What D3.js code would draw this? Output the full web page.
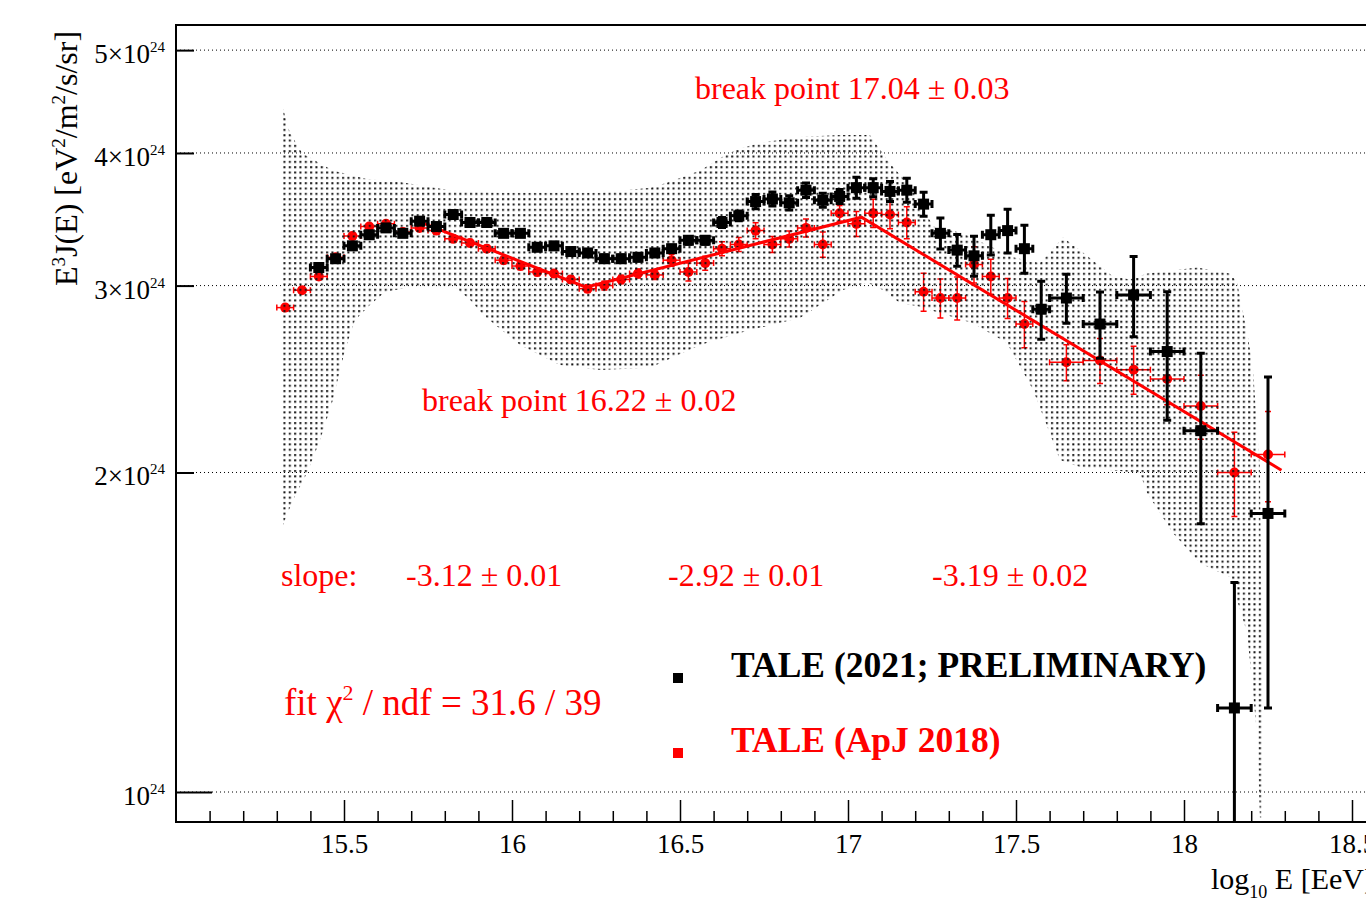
<!DOCTYPE html>
<html>
<head>
<meta charset="utf-8">
<script src="https://cdn.jsdelivr.net/npm/d3@7"></script>
<style>
  body { margin: 0; background: #fff; }
  text { font-family: "Liberation Serif", "DejaVu Serif", serif; }
</style>
</head>
<body>
<script>
// les données : log10(E/eV) et E^3 J(E) en unités de 1e24 eV^2/m^2/s/sr

// TALE (ApJ 2018), en rouge
const redE = [15.325, 15.375, 15.425, 15.475, 15.525, 15.575, 15.625, 15.675, 15.725, 15.775,
  15.825, 15.875, 15.925, 15.975, 16.025, 16.075, 16.125, 16.175, 16.225, 16.275,
  16.325, 16.375, 16.425, 16.475, 16.525, 16.575, 16.625, 16.675, 16.725, 16.775,
  16.825, 16.875, 16.925, 16.975, 17.025, 17.075, 17.125, 17.175, 17.225, 17.275,
  17.325, 17.375, 17.425, 17.475, 17.525, 17.65, 17.75, 17.85, 17.95, 18.05,
  18.15, 18.25]
const redFlux = [2.86, 2.97, 3.06, 3.19, 3.34, 3.41, 3.43, 3.37, 3.40, 3.38,
  3.32, 3.29, 3.25, 3.17, 3.13, 3.09, 3.08, 3.04, 2.98, 3.00,
  3.04, 3.08, 3.07, 3.17, 3.09, 3.15, 3.25, 3.28, 3.38, 3.28,
  3.32, 3.40, 3.28, 3.51, 3.43, 3.51, 3.50, 3.44, 2.96, 2.92,
  2.92, 3.14, 3.06, 2.92, 2.76, 2.54, 2.55, 2.50, 2.45, 2.31,
  2.00, 2.08]
const redErr = [0.02, 0.02, 0.02, 0.02, 0.02, 0.02, 0.02, 0.025, 0.025, 0.025,
  0.025, 0.025, 0.025, 0.025, 0.025, 0.025, 0.025, 0.025, 0.025, 0.028,
  0.028, 0.03, 0.03, 0.041, 0.060, 0.048, 0.049, 0.050, 0.059, 0.057,
  0.058, 0.066, 0.089, 0.06, 0.093, 0.107, 0.106, 0.119, 0.122, 0.124,
  0.136, 0.123, 0.116, 0.127, 0.138, 0.099, 0.124, 0.130, 0.133, 0.160,
  0.182, 0.203]

// TALE (2021; PRELIMINARY), en noir
const blackE = [15.425, 15.475, 15.525, 15.575, 15.625, 15.675, 15.725, 15.775, 15.825, 15.875,
  15.925, 15.975, 16.025, 16.075, 16.125, 16.175, 16.225, 16.275, 16.325, 16.375,
  16.425, 16.475, 16.525, 16.575, 16.625, 16.675, 16.725, 16.775, 16.825, 16.875,
  16.925, 16.975, 17.025, 17.075, 17.125, 17.175, 17.225, 17.275, 17.325, 17.375,
  17.425, 17.475, 17.525, 17.575, 17.65, 17.75, 17.85, 17.95, 18.05, 18.15,
  18.25]
const blackFlux = [3.12, 3.18, 3.27, 3.35, 3.40, 3.36, 3.45, 3.41, 3.50, 3.44,
  3.44, 3.36, 3.36, 3.26, 3.27, 3.23, 3.22, 3.18, 3.18, 3.19,
  3.22, 3.25, 3.31, 3.31, 3.44, 3.49, 3.60, 3.62, 3.59, 3.69,
  3.61, 3.64, 3.71, 3.71, 3.68, 3.69, 3.58, 3.36, 3.24, 3.20,
  3.35, 3.38, 3.25, 2.85, 2.92, 2.76, 2.94, 2.60, 2.19, 1.20,
  1.83]
const blackErr = [0.02, 0.02, 0.02, 0.02, 0.02, 0.02, 0.02, 0.02, 0.022, 0.022,
  0.022, 0.022, 0.022, 0.022, 0.022, 0.022, 0.022, 0.025, 0.025, 0.025,
  0.025, 0.025, 0.028, 0.028, 0.037, 0.037, 0.055, 0.055, 0.055, 0.058,
  0.055, 0.055, 0.085, 0.072, 0.080, 0.096, 0.093, 0.113, 0.112, 0.139,
  0.145, 0.161, 0.169, 0.179, 0.155, 0.198, 0.255, 0.36, 0.40, 0.375,
  0.63]

// ajustement (loi de puissance brisée)
const fitE = [15.72, 16.22, 17.04, 18.29]
const fitFlux = [3.45, 2.99, 3.48, 2.01]

// bande systématique (bord haut et bord bas)
const bandUpE = [15.318, 15.339, 15.375, 15.429, 15.467, 15.568, 15.667, 15.815, 15.964, 16.262,
  16.411, 16.461, 16.560, 16.628, 16.670, 16.738, 16.857, 16.976, 17.065, 17.095,
  17.125, 17.176, 17.223, 17.253, 17.342, 17.491, 17.571, 17.640, 17.690, 17.789,
  17.839, 17.890, 18.039, 18.137, 18.158, 18.188, 18.205, 18.226, 18.235, 18.235]
const bandUpFlux = [4.41, 4.18, 4.00, 3.91, 3.85, 3.78, 3.755, 3.69, 3.67, 3.67,
  3.71, 3.75, 3.85, 3.97, 4.03, 4.09, 4.14, 4.16, 4.16, 4.03,
  3.91, 3.75, 3.56, 3.41, 3.36, 3.19, 3.15, 3.33, 3.24, 3.06,
  3.04, 3.08, 3.12, 3.08, 3.02, 2.71, 2.51, 2.02, 1.06, 0.946]
const bandLowE = [15.315, 15.348, 15.390, 15.429, 15.467, 15.503, 15.533, 15.577, 15.622, 15.696,
  15.830, 15.875, 15.914, 16.024, 16.143, 16.262, 16.411, 16.560, 16.708, 16.857,
  16.985, 17.057, 17.104, 17.155, 17.205, 17.372, 17.473, 17.551, 17.631, 17.690,
  17.869, 17.890, 17.967, 18.048, 18.137, 18.188, 18.217, 18.226]
const bandLowFlux = [1.773, 1.884, 1.998, 2.146, 2.341, 2.609, 2.784, 2.876, 2.958, 2.99,
  2.99, 2.91, 2.815, 2.637, 2.525, 2.498, 2.51, 2.637, 2.724, 2.796,
  2.971, 3.02, 2.971, 2.888, 2.87, 2.765, 2.648, 2.392, 2.055, 2.024,
  1.998, 1.913, 1.754, 1.643, 1.594, 1.412, 1.137, 0.946]

// graduations
const xMajor = [15.5, 16, 16.5, 17, 17.5, 18, 18.5]
const xMinor = d3.range(15.1, 18.6, 0.1).map(d => +d.toFixed(1)).filter(d => !xMajor.includes(d))
const yTicks = [1, 2, 3, 4, 5]

// dimensions
const WIDTH = 1366
const HEIGHT = 906
const LEFT = 176
const TOP = 25
const BOTTOM = 822
const RIGHT = 1385.6

const RED = '#ff0000'

// demi-largeur des bins
const halfBin = e => e < 17.6 ? 0.025 : 0.05

const x = d3.scaleLinear().domain([15, 18.6]).range([LEFT, RIGHT])
const y = d3.scaleLog().domain([0.937, 5.28]).range([BOTTOM, TOP])

const svg = d3.select('body')
  .append('svg')
  .attr('width', WIDTH)
  .attr('height', HEIGHT)

const defs = svg.append('defs')
defs.append('clipPath').attr('id', 'clip')
  .append('rect')
  .attr('x', LEFT).attr('y', TOP)
  .attr('width', RIGHT - LEFT).attr('height', BOTTOM - TOP)

// motif en points pour la bande
const pat = defs.append('pattern')
  .attr('id', 'dots')
  .attr('patternUnits', 'userSpaceOnUse')
  .attr('width', 5.33).attr('height', 5.33)
pat.append('rect').attr('x', 1).attr('y', 1).attr('width', 2).attr('height', 2).attr('fill', '#111')

// lignes de grille pointillées
svg.append('g')
  .selectAll('line')
  .data(yTicks)
  .enter()
  .append('line')
  .attr('x1', LEFT)
  .attr('x2', RIGHT)
  .attr('y1', d => y(d))
  .attr('y2', d => y(d))
  .attr('stroke', '#000')
  .attr('stroke-width', 1)
  .attr('stroke-dasharray', '1,3')

const plot = svg.append('g').attr('clip-path', 'url(#clip)')

function drawPoints (E, F, Err, opt) {
  const rows = E.map((e, i) => ({ e, f: F[i], err: Err[i], hw: halfBin(e) }))
  const g = plot.append('g')
    .attr('stroke', opt.color)
    .attr('stroke-width', opt.lw)
    .attr('fill', opt.color)
  const pts = g.selectAll('g').data(rows).enter().append('g')
  // barre verticale
  pts.append('line')
    .attr('x1', d => x(d.e)).attr('x2', d => x(d.e))
    .attr('y1', d => y(Math.max(d.f - d.err, 0.5)))
    .attr('y2', d => y(d.f + d.err))
  // barre horizontale
  pts.append('line')
    .attr('x1', d => x(d.e - d.hw)).attr('x2', d => x(d.e + d.hw))
    .attr('y1', d => y(d.f)).attr('y2', d => y(d.f))
  // embouts
  const c = opt.cap
  pts.append('path')
    .attr('fill', 'none')
    .attr('d', d => {
      const xl = x(d.e - d.hw), xr = x(d.e + d.hw), xc = x(d.e)
      const yc = y(d.f), yt = y(d.f + d.err), yb = y(Math.max(d.f - d.err, 0.5))
      return `M${xl},${yc - c}V${yc + c}M${xr},${yc - c}V${yc + c}` +
        `M${xc - c},${yt}H${xc + c}M${xc - c},${yb}H${xc + c}`
    })
  // marqueurs
  if (opt.shape === 'circle') {
    pts.append('circle')
      .attr('cx', d => x(d.e)).attr('cy', d => y(d.f))
      .attr('r', opt.size / 2).attr('stroke', 'none')
  } else {
    pts.append('rect')
      .attr('x', d => x(d.e) - opt.size / 2).attr('y', d => y(d.f) - opt.size / 2)
      .attr('width', opt.size).attr('height', opt.size).attr('stroke', 'none')
  }
}

// points rouges (sous la bande)
drawPoints(redE, redFlux, redErr, { color: RED, lw: 1.5, cap: 3, shape: 'circle', size: 10 })

// bande systématique
const bandPts = bandUpE.map((e, i) => [e, bandUpFlux[i]])
  .concat(bandLowE.map((e, i) => [e, bandLowFlux[i]]).reverse())
plot.append('path')
  .attr('d', d3.line().x(d => x(d[0])).y(d => y(d[1]))(bandPts) + 'Z')
  .attr('fill', 'url(#dots)')
  .attr('stroke', 'none')

// ajustement
plot.append('path')
  .datum(fitE.map((e, i) => [e, fitFlux[i]]))
  .attr('d', d3.line().x(d => x(d[0])).y(d => y(d[1])))
  .attr('fill', 'none')
  .attr('stroke', RED)
  .attr('stroke-width', 3)

// points noirs
drawPoints(blackE, blackFlux, blackErr, { color: '#000', lw: 3, cap: 4, shape: 'rect', size: 11 })

// axe x
svg.append('g')
  .attr('transform', `translate(0,${BOTTOM})`)
  .call(d3.axisBottom(x).tickValues(xMinor).tickSize(-11).tickFormat(''))
  .call(g => g.select('.domain').remove())
  .selectAll('line').attr('stroke-width', 1.5)
const xAxis = svg.append('g')
  .attr('transform', `translate(0,${BOTTOM})`)
  .call(d3.axisBottom(x).tickValues(xMajor).tickSize(-22).tickPadding(12).tickFormat(d => d))
xAxis.select('.domain').remove()
xAxis.selectAll('line').attr('stroke-width', 1.5)
xAxis.selectAll('text')
  .attr('font-size', 27)
  .attr('font-family', '"Liberation Serif", serif')
  .attr('fill', '#000')

// axe y
const yAxis = svg.append('g')
  .attr('transform', `translate(${LEFT},0)`)
  .call(d3.axisLeft(y).tickValues(yTicks).tickSize(-18).tickFormat(''))
yAxis.select('.domain').remove()
yAxis.selectAll('line')
  .attr('stroke-width', 2)
  .attr('x2', d => d === 1 ? 36 : 18)

const yLab = svg.append('g')
  .selectAll('text')
  .data(yTicks)
  .enter()
  .append('text')
  .attr('x', 165)
  .attr('y', d => y(d) + 13)
  .attr('text-anchor', 'end')
  .attr('font-size', 27)
yLab.append('tspan').text(d => d === 1 ? '10' : d + '×10')
yLab.append('tspan').attr('dy', -11).attr('font-size', 15).text('24')

// cadre
svg.append('rect')
  .attr('x', LEFT).attr('y', TOP)
  .attr('width', RIGHT - LEFT).attr('height', BOTTOM - TOP)
  .attr('fill', 'none')
  .attr('stroke', '#000')
  .attr('stroke-width', 2)

// titres des axes
const yTitle = svg.append('text')
  .attr('transform', 'translate(77,286) rotate(-90)')
  .attr('font-size', 32)
yTitle.append('tspan').text('E')
yTitle.append('tspan').attr('dy', -12).attr('font-size', 19).text('3')
yTitle.append('tspan').attr('dy', 12).text('J(E) [eV')
yTitle.append('tspan').attr('dy', -12).attr('font-size', 19).text('2')
yTitle.append('tspan').attr('dy', 12).text('/m')
yTitle.append('tspan').attr('dy', -12).attr('font-size', 19).text('2')
yTitle.append('tspan').attr('dy', 12).text('/s/sr]')

const xTitle = svg.append('text')
  .attr('x', 1211)
  .attr('y', 889)
  .attr('font-size', 30)
xTitle.append('tspan').text('log')
xTitle.append('tspan').attr('dy', 9).attr('font-size', 18).text('10')
xTitle.append('tspan').attr('dy', -9).text(' E [EeV]')

// annotations
const notes = [
  { t: 'break point 17.04 ± 0.03', x: 695, y: 99 },
  { t: 'break point 16.22 ± 0.02', x: 422, y: 411 },
  { t: 'slope:', x: 281, y: 586 },
  { t: '-3.12 ± 0.01', x: 406, y: 586 },
  { t: '-2.92 ± 0.01', x: 668, y: 586 },
  { t: '-3.19 ± 0.02', x: 932, y: 586 }
]
svg.append('g')
  .selectAll('text')
  .data(notes)
  .enter()
  .append('text')
  .attr('x', d => d.x)
  .attr('y', d => d.y)
  .attr('fill', RED)
  .attr('font-size', 32)
  .text(d => d.t)

const chi = svg.append('text')
  .attr('x', 284).attr('y', 715)
  .attr('fill', RED)
  .attr('font-size', 37)
chi.append('tspan').text('fit χ')
chi.append('tspan').attr('dy', -15).attr('font-size', 22).text('2')
chi.append('tspan').attr('dy', 15).text(' / ndf = 31.6 / 39')

// légende
const legend = [
  { t: 'TALE (2021; PRELIMINARY)', c: '#000', y: 677 },
  { t: 'TALE (ApJ 2018)', c: RED, y: 752 }
]
const lg = svg.append('g').selectAll('g').data(legend).enter().append('g')
lg.append('rect')
  .attr('x', 673).attr('y', d => d.y - 4)
  .attr('width', 10).attr('height', 10)
  .attr('fill', d => d.c)
lg.append('text')
  .attr('x', 731).attr('y', d => d.y)
  .attr('fill', d => d.c)
  .attr('font-size', 35.5)
  .attr('font-weight', 'bold')
  .text(d => d.t)
</script>
</body>
</html>
